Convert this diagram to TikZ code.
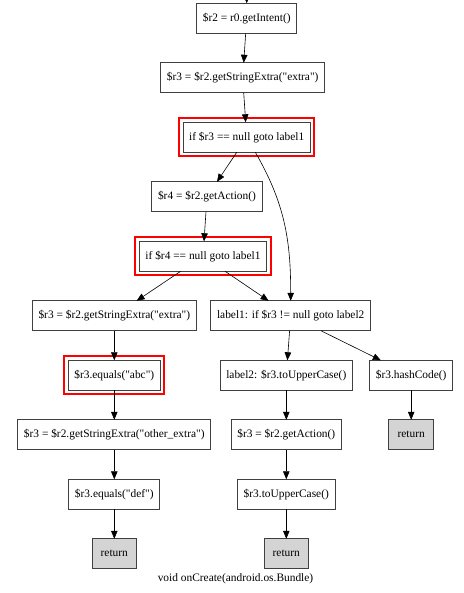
\documentclass[tikz,border=0pt]{standalone}
\usepackage{fontspec}
\newfontfamily\dotfont{Liberation Serif}
\usepackage{tikz}
\usetikzlibrary{positioning,arrows.meta}

\begin{document}
\begin{tikzpicture}[x=1pt, y=-1pt, >={Triangle[length=8pt,width=6.5pt]},
		node distance=29.5pt, font=\dotfont\fontsize{11.4}{13}\selectfont,
		blk/.style={draw=black!75, line width=0.8pt, outer sep=0pt, minimum height=30pt, inner xsep=6.2pt},
		ret/.style={blk, fill=black!17, minimum width=44.7pt},
		redframe/.style={draw=red, line width=2pt},
		flow/.style={->, line width=0.6pt}]
		\useasboundingbox (0,0) rectangle (463,593);
		\node[blk] (r2) at (246.7,18.3) {\$r2 = r0.getIntent()};
		\node[blk, below=of r2, xshift=-4pt] (ex1) {\$r3 = \$r2.getStringExtra("extra")};
		\node[blk, below=of ex1, xshift=4pt] (if1) {if \$r3 == null goto label1};
		\node[blk, below=of if1, xshift=-39.7pt] (r4) {\$r4 = \$r2.getAction()};
		\node[blk, below=of r4, xshift=-4pt] (if2) {if \$r4 == null goto label1};
		\node[blk, below=of if2, xshift=-88.7pt] (ex2) {\$r3 = \$r2.getStringExtra("extra")};
		\node[blk, below=of if2, xshift=87.7pt] (lab1) {label1: if \$r3 != null goto label2};
		\node[blk, below=of ex2] (abc) {\$r3.equals("abc")};
		\node[blk, below=of lab1, xshift=-4.4pt] (lab2) {label2: \$r3.toUpperCase()};
		\node[blk, below=of lab1, xshift=120.5pt] (hash) {\$r3.hashCode()};
		\node[blk, below=of abc] (ex3) {\$r3 = \$r2.getStringExtra("other\_extra")};
		\node[blk, below=of lab2] (act) {\$r3 = \$r2.getAction()};
		\node[ret, below=of hash] (ret3) {return};
		\node[blk, below=of ex3] (def) {\$r3.equals("def")};
		\node[blk, below=of act] (upper) {\$r3.toUpperCase()};
		\node[ret, below=of def] (ret1) {return};
		\node[ret, below=of upper] (ret2) {return};
		\node (cap) at (235.5,578.3) {void onCreate(android.os.Bundle)};
		\coordinate (entry) at (246.7,-6);
		% marked statements
		\foreach \n in {if1,if2,abc}
			\draw[redframe] ([shift={(-4pt,4pt)}]\n.north west) rectangle ([shift={(4pt,-4pt)}]\n.south east);
		% control flow
		\draw[flow] (entry) -- (r2);
		\foreach \a/\b in {r2/ex1, ex1/if1, if1/r4, r4/if2, if2/ex2, if2/lab1, ex2/abc,
				lab1/lab2, lab1/hash, abc/ex3, ex3/def, def/ret1, lab2/act, act/upper,
				upper/ret2, hash/ret3}
			\draw[flow] (\a) -- (\b);
		\draw[flow] (if1) to[out=-60, in=90] (lab1);
	\end{tikzpicture}
\end{document}
